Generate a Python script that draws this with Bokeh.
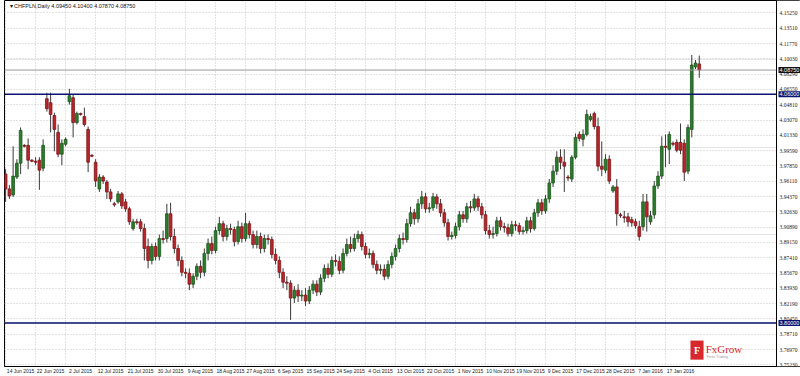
from bokeh.plotting import figure
from bokeh.models import (FixedTicker, Span, Label, LabelSet, BoxAnnotation, ColumnDataSource,
                          Range1d, Grid)
from bokeh.embed import file_html
from bokeh.resources import INLINE

# ---------------- data (CHFPLN daily) ----------------
opens = [
    3.9692, 3.9523, 3.9455, 3.9658, 3.9816, 4.0019, 4.0019, 3.9850, 3.9838, 3.9850,
    3.9759, 4.0549, 4.0504, 4.0358, 4.0166, 3.9918, 4.0031, 4.0515, 4.0560, 4.0278,
    4.0380, 4.0346, 4.0200, 3.9906, 3.9827, 3.9523, 3.9658, 3.9602, 3.9489, 3.9354,
    3.9376, 3.9467, 3.9376, 3.9297, 3.9072, 3.9150, 3.9150, 3.9072, 3.8869, 3.8710,
    3.8869, 3.8756, 3.8959, 3.8959, 3.9241, 3.8982, 3.8846, 3.8710, 3.8575, 3.8564,
    3.8440, 3.8530, 3.8643, 3.8575, 3.8790, 3.8902, 3.8823, 3.9049, 3.9128, 3.8982,
    3.9072, 3.9061, 3.8925, 3.9094, 3.8959, 3.9128, 3.9004, 3.8891, 3.8982, 3.8846,
    3.8959, 3.8948, 3.8779, 3.8710, 3.8575, 3.8463, 3.8452, 3.8282, 3.8372, 3.8305,
    3.8316, 3.8248, 3.8372, 3.8440, 3.8350, 3.8508, 3.8620, 3.8553, 3.8710, 3.8699,
    3.8598, 3.8790, 3.8891, 3.8846, 3.8959, 3.9004, 3.8869, 3.8779, 3.8790, 3.8665,
    3.8598, 3.8609, 3.8530, 3.8665, 3.8756, 3.8846, 3.8959, 3.8948, 3.9128, 3.9252,
    3.9184, 3.9354, 3.9433, 3.9297, 3.9308, 3.9433, 3.9354, 3.9252, 3.9139, 3.8982,
    3.8993, 3.9094, 3.9229, 3.9184, 3.9320, 3.9308, 3.9410, 3.9320, 3.9229, 3.9049,
    3.9004, 3.9015, 3.9161, 3.9094, 3.9083, 3.9015, 3.9116, 3.9105, 3.9038, 3.9049,
    3.9161, 3.9072, 3.9252, 3.9365, 3.9274, 3.9410, 3.9591, 3.9725, 3.9884, 3.9827,
    3.9658, 3.9636, 3.9884, 4.0143, 4.0087, 4.0143, 4.0312, 4.0380, 4.0233, 3.9782,
    3.9737, 3.9861, 3.9500, 3.9546, 3.9229, 3.9206, 3.9206, 3.9173, 3.9150, 3.9094,
    3.9094, 3.9376, 3.9150, 3.9229, 3.9557, 3.9669, 4.0008, 3.9974, 4.0042, 4.0053,
    4.0053, 4.0042, 3.9725, 4.0200, 4.0910, 4.0945,
]
highs = [
    3.9748, 3.9568, 4.0008, 3.9861, 4.0222, 4.0031, 4.0098, 3.9861, 3.9884, 3.9884,
    4.0087, 4.0617, 4.0617, 4.0391, 4.0256, 4.0087, 4.0109, 4.0662, 4.0594, 4.0402,
    4.0391, 4.0447, 4.0233, 3.9918, 3.9861, 3.9692, 3.9680, 3.9625, 3.9523, 3.9376,
    3.9500, 3.9489, 3.9410, 3.9320, 3.9184, 3.9184, 3.9184, 3.9128, 3.8959, 3.8902,
    3.8914, 3.9004, 3.9049, 3.9354, 3.9365, 3.9072, 3.8891, 3.8756, 3.8620, 3.8620,
    3.8564, 3.8677, 3.8710, 3.8846, 3.8959, 3.8982, 3.9094, 3.9206, 3.9161, 3.9116,
    3.9128, 3.9094, 3.9161, 3.9139, 3.9252, 3.9161, 3.9049, 3.9049, 3.9027, 3.9004,
    3.9004, 3.8982, 3.8846, 3.8756, 3.8620, 3.8530, 3.8485, 3.8418, 3.8440, 3.8372,
    3.8395, 3.8418, 3.8485, 3.8485, 3.8553, 3.8665, 3.8677, 3.8756, 3.8779, 3.8756,
    3.8846, 3.8959, 3.8982, 3.9015, 3.9049, 3.9038, 3.8914, 3.8846, 3.8823, 3.8710,
    3.8665, 3.8665, 3.8710, 3.8801, 3.8891, 3.9004, 3.9027, 3.9184, 3.9320, 3.9297,
    3.9410, 3.9500, 3.9478, 3.9365, 3.9478, 3.9467, 3.9410, 3.9297, 3.9184, 3.9038,
    3.9139, 3.9274, 3.9274, 3.9365, 3.9387, 3.9467, 3.9444, 3.9365, 3.9274, 3.9116,
    3.9094, 3.9206, 3.9206, 3.9139, 3.9128, 3.9161, 3.9161, 3.9139, 3.9094, 3.9206,
    3.9206, 3.9297, 3.9410, 3.9410, 3.9455, 3.9636, 3.9793, 3.9951, 3.9974, 3.9974,
    3.9680, 3.9906, 4.0154, 4.0177, 4.0200, 4.0425, 4.0380, 4.0402, 4.0335, 4.0064,
    3.9918, 3.9906, 3.9568, 3.9636, 3.9252, 3.9274, 3.9252, 3.9206, 3.9184, 3.9161,
    3.9467, 3.9467, 3.9274, 3.9613, 3.9725, 4.0121, 4.0143, 4.0177, 4.0064, 4.0087,
    4.0267, 4.0087, 4.0256, 4.1046, 4.0989, 4.1040,
]
lows = [
    3.9376, 3.9410, 3.9433, 3.9636, 3.9692, 3.9997, 3.9748, 3.9827, 3.9793, 3.9512,
    3.9725, 4.0402, 4.0166, 3.9951, 3.9884, 3.9793, 4.0008, 4.0482, 4.0109, 4.0256,
    4.0358, 4.0233, 3.9714, 3.9884, 3.9546, 3.9489, 3.9580, 3.9410, 3.9376, 3.9320,
    3.9354, 3.9297, 3.9263, 3.9116, 3.9049, 3.9116, 3.9038, 3.8710, 3.8620, 3.8665,
    3.8710, 3.8710, 3.8902, 3.8914, 3.8936, 3.8790, 3.8643, 3.8530, 3.8508, 3.8372,
    3.8395, 3.8485, 3.8508, 3.8530, 3.8710, 3.8779, 3.8790, 3.9004, 3.8925, 3.8936,
    3.9004, 3.8869, 3.8891, 3.8914, 3.8925, 3.8959, 3.8846, 3.8846, 3.8790, 3.8801,
    3.8891, 3.8733, 3.8665, 3.8508, 3.8395, 3.8372, 3.8033, 3.8226, 3.8237, 3.8248,
    3.8192, 3.8214, 3.8327, 3.8305, 3.8316, 3.8463, 3.8508, 3.8519, 3.8643, 3.8553,
    3.8564, 3.8756, 3.8801, 3.8812, 3.8914, 3.8823, 3.8733, 3.8733, 3.8620, 3.8553,
    3.8553, 3.8485, 3.8497, 3.8620, 3.8710, 3.8801, 3.8891, 3.8914, 3.9094, 3.9116,
    3.9139, 3.9297, 3.9252, 3.9252, 3.9274, 3.9297, 3.9206, 3.9094, 3.8936, 3.8948,
    3.8959, 3.9049, 3.9139, 3.9139, 3.9252, 3.9274, 3.9274, 3.9184, 3.9004, 3.8959,
    3.8959, 3.8982, 3.9049, 3.9027, 3.8982, 3.8982, 3.9049, 3.9004, 3.9004, 3.9015,
    3.9027, 3.9049, 3.9206, 3.9229, 3.9241, 3.9365, 3.9546, 3.9680, 3.9748, 3.9489,
    3.9613, 3.9602, 3.9861, 4.0064, 4.0008, 4.0121, 4.0289, 4.0200, 3.9725, 3.9669,
    3.9703, 3.9580, 3.9478, 3.9105, 3.9195, 3.9139, 3.9094, 3.9094, 3.9072, 3.8936,
    3.9049, 3.9038, 3.9116, 3.9184, 3.9523, 3.9636, 3.9771, 3.9805, 4.0008, 3.9940,
    3.9918, 3.9613, 3.9692, 4.0109, 4.0887, 4.0787,
]
closes = [
    3.9523, 3.9444, 3.9669, 3.9816, 4.0189, 4.0008, 3.9850, 3.9838, 3.9827, 3.9737,
    4.0019, 4.0436, 4.0369, 4.0200, 3.9918, 4.0042, 4.0087, 4.0583, 4.0278, 4.0380,
    4.0369, 4.0256, 3.9827, 3.9895, 3.9613, 3.9658, 3.9613, 3.9489, 3.9410, 3.9342,
    3.9467, 3.9331, 3.9297, 3.9150, 3.9150, 3.9139, 3.9072, 3.8846, 3.8710, 3.8869,
    3.8756, 3.8959, 3.8948, 3.9241, 3.8982, 3.8846, 3.8710, 3.8575, 3.8564, 3.8440,
    3.8530, 3.8643, 3.8575, 3.8790, 3.8902, 3.8823, 3.9049, 3.9128, 3.8982, 3.9072,
    3.9061, 3.8925, 3.9094, 3.8959, 3.9128, 3.9004, 3.8891, 3.8982, 3.8846, 3.8959,
    3.8948, 3.8779, 3.8710, 3.8575, 3.8463, 3.8452, 3.8282, 3.8372, 3.8305, 3.8316,
    3.8248, 3.8372, 3.8440, 3.8350, 3.8508, 3.8620, 3.8553, 3.8710, 3.8699, 3.8598,
    3.8790, 3.8891, 3.8846, 3.8959, 3.9004, 3.8869, 3.8779, 3.8790, 3.8665, 3.8598,
    3.8609, 3.8530, 3.8665, 3.8756, 3.8846, 3.8959, 3.8948, 3.9128, 3.9252, 3.9184,
    3.9354, 3.9433, 3.9297, 3.9308, 3.9433, 3.9354, 3.9252, 3.9139, 3.8982, 3.8993,
    3.9094, 3.9229, 3.9184, 3.9320, 3.9308, 3.9410, 3.9320, 3.9229, 3.9049, 3.9004,
    3.9015, 3.9161, 3.9094, 3.9083, 3.9015, 3.9116, 3.9105, 3.9038, 3.9049, 3.9161,
    3.9072, 3.9252, 3.9365, 3.9274, 3.9410, 3.9591, 3.9725, 3.9884, 3.9827, 3.9782,
    3.9647, 3.9884, 4.0109, 4.0098, 4.0143, 4.0369, 4.0346, 4.0233, 3.9782, 3.9748,
    3.9861, 3.9613, 3.9546, 3.9241, 3.9218, 3.9195, 3.9150, 3.9139, 3.9105, 3.8982,
    3.9376, 3.9206, 3.9218, 3.9557, 3.9669, 4.0008, 3.9997, 4.0143, 4.0031, 3.9963,
    3.9963, 3.9714, 4.0222, 4.0932, 4.0955, 4.0875,
]

date_labels = [
    "14 Jun 2015", "22 Jun 2015", "2 Jul 2015", "12 Jul 2015", "21 Jul 2015",
    "30 Jul 2015", "9 Aug 2015", "18 Aug 2015", "27 Aug 2015", "6 Sep 2015",
    "15 Sep 2015", "24 Sep 2015", "4 Oct 2015", "13 Oct 2015", "22 Oct 2015",
    "1 Nov 2015", "10 Nov 2015", "19 Nov 2015", "9 Dec 2015", "17 Dec 2015",
    "28 Dec 2015", "7 Jan 2016", "17 Jan 2016",
]
bars_per_label = 8

price_ticks = [
    4.15250, 4.13510, 4.11770, 4.10030, 4.08290, 4.06550, 4.04810, 4.03070,
    4.01330, 3.99590, 3.97850, 3.96110, 3.94370, 3.92630, 3.90890, 3.89150,
    3.87410, 3.85670, 3.83930, 3.82190, 3.80450, 3.78710, 3.76970, 3.75230,
]

resistance_level = 4.0600
support_level = 3.8000
last_price = 4.0875
title_text = "\u25be CHFPLN,Daily  4.09450 4.10400 4.07870 4.08750"

# ---------------- figure ----------------
X_START, X_END = -0.3, 212.0      # plot area spans the whole width
SCALE_X = 205.6                  # position of the price scale line
Y_START, Y_END = 3.7504, 4.1666

p = figure(width=800, height=376, x_range=Range1d(X_START, X_END),
           y_range=Range1d(Y_START, Y_END), y_axis_location=None,
           output_backend="svg", toolbar_location=None, tools="",
           min_border_left=4, min_border_top=0, min_border_bottom=0,
           min_border_right=0)
p.background_fill_color = "white"
p.border_fill_color = "white"
p.outline_line_color = "black"
p.outline_line_width = 1

GRID_COLOR = "#c4c4c4"
p.add_layout(Grid(dimension=1, ticker=FixedTicker(ticks=price_ticks),
                  grid_line_color=GRID_COLOR, grid_line_dash="1 2", grid_line_width=1))

n = len(closes)
idx = list(range(n))
GREEN, GREEN_EDGE = "#2b7d2b", "#1c561c"
RED, RED_EDGE = "#b8262c", "#7c1518"
up = [c >= o for o, c in zip(opens, closes)]
src = ColumnDataSource(dict(
    x=idx, h=highs, l=lows,
    top=[max(o, c) for o, c in zip(opens, closes)],
    bottom=[min(o, c) for o, c in zip(opens, closes)],
    fill=[GREEN if u else RED for u in up],
    edge=[GREEN_EDGE if u else RED_EDGE for u in up],
))

p.segment(x0="x", y0="h", x1="x", y1="l", source=src, line_color="#3a3a3a", line_width=1)
p.vbar(x="x", width=0.72, top="top", bottom="bottom", source=src,
       fill_color="fill", line_color="edge", line_width=0.8)

# horizontal reference lines
p.add_layout(Span(location=last_price, dimension="width", line_color="#9a9a9a", line_width=1))
p.add_layout(Span(location=resistance_level, dimension="width", line_color="#0a1470", line_width=1.5))
p.add_layout(Span(location=support_level, dimension="width", line_color="#0a1470", line_width=1.5))

# price scale (drawn inside the plot area, right side)
p.add_layout(BoxAnnotation(left=SCALE_X, fill_color="white", fill_alpha=1,
                           line_color=None))
p.add_layout(Span(location=SCALE_X, dimension="height", line_color="black", line_width=1))
tick_src = ColumnDataSource(dict(x=[SCALE_X] * len(price_ticks), y=price_ticks,
                                 t=[f"{v:.5f}" for v in price_ticks]))
p.add_layout(LabelSet(x="x", y="y", text="t", source=tick_src, x_offset=3,
                      text_baseline="middle", text_font="Liberation Sans",
                      text_font_size="5.5px", text_color="#222222"))
for lvl, bg in ((last_price, "#111111"), (resistance_level, "#0a1470"), (support_level, "#0a1470")):
    p.add_layout(Label(x=SCALE_X, y=lvl, text=f"{lvl:.5f}", x_offset=2,
                       text_baseline="middle", text_font="Liberation Sans",
                       text_font_size="5.5px", text_color="white",
                       background_fill_color=bg, padding=1))

# date axis
tick_pos = [i * bars_per_label for i in range(len(date_labels))]
label_shift = 4   # labels start at their bar, as in the original terminal
label_pos = [t + label_shift for t in tick_pos]
p.xaxis.ticker = FixedTicker(ticks=label_pos)
p.xaxis.major_label_overrides = {t: lab for t, lab in zip(label_pos, date_labels)}
p.xaxis.major_label_text_font = "Liberation Sans"
p.xaxis.major_label_text_font_size = "5px"
p.xaxis.major_label_text_color = "#222222"
p.xaxis.major_label_standoff = 1
p.xaxis.major_tick_in = 0
p.xaxis.major_tick_out = 0
p.xaxis.minor_tick_out = 0
p.xaxis.minor_tick_in = 0
p.xaxis.axis_line_color = "black"

p.xgrid.ticker = FixedTicker(ticks=tick_pos)
p.xgrid.grid_line_color = GRID_COLOR
p.xgrid.grid_line_dash = "1 2"
p.xgrid.grid_line_width = 1

# title
p.add_layout(Label(x=X_START, y=Y_END, x_offset=5, y_offset=-2, text=title_text,
                   text_baseline="top", text_font="Liberation Sans",
                   text_font_size="5.5px", text_color="#111111"))

# FxGrow logo
logo_left = n - 3.3
logo_y_top = Y_START + 0.0293
logo_y_bot = Y_START + 0.0079
p.add_layout(BoxAnnotation(left=logo_left, right=logo_left + 3.4, bottom=logo_y_bot,
                           top=logo_y_top, fill_color="#d9272e", fill_alpha=1,
                           line_color="#d9272e"))
p.add_layout(Label(x=logo_left + 1.7, y=(logo_y_top + logo_y_bot) / 2, text="F",
                   text_align="center", text_baseline="middle", text_color="white",
                   text_font="Liberation Serif", text_font_size="10px",
                   text_font_style="bold"))
p.add_layout(Label(x=logo_left + 4.0, y=logo_y_bot + 0.0052, text="FxGrow",
                   text_baseline="bottom", text_color="#d9272e",
                   text_font="Liberation Serif", text_font_size="11px"))
p.add_layout(Label(x=logo_left + 4.2, y=logo_y_bot + 0.0048, text="Forex Trading",
                   text_baseline="top", text_color="#9a9a9a",
                   text_font="Liberation Sans", text_font_size="3.5px"))

open("out.html", "w").write(file_html(p, INLINE))
